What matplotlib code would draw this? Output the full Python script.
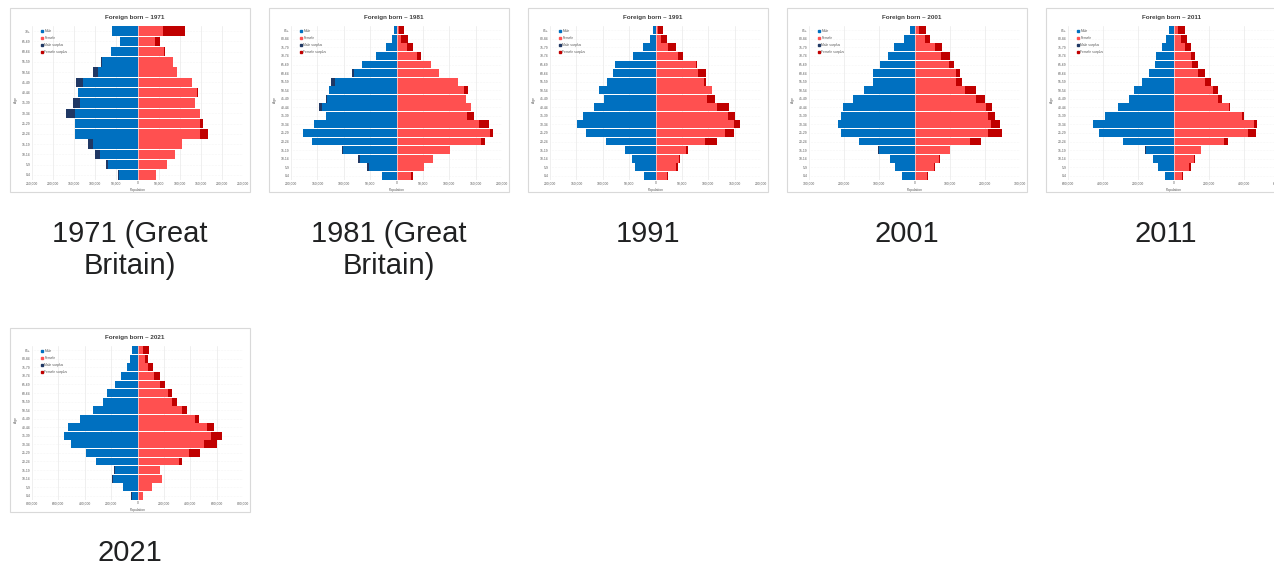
import numpy as np
import matplotlib.pyplot as plt
from matplotlib.patches import Patch, Rectangle

plt.rcParams['font.family'] = ['Liberation Sans', 'DejaVu Sans']

# age groups
ages_1971 = ['0-4', '5-9', '10-14', '15-19', '20-24', '25-29', '30-34', '35-39',
             '40-44', '45-49', '50-54', '55-59', '60-64', '65-69', '70+']
ages = ['0-4', '5-9', '10-14', '15-19', '20-24', '25-29', '30-34', '35-39',
        '40-44', '45-49', '50-54', '55-59', '60-64', '65-69', '70-74', '75-79',
        '80-84', '85+']

# foreign born population, thousands
male_1971 = [46, 75, 100, 117, 147, 149, 169, 153, 141, 145, 106, 87, 63, 42, 60]
female_1971 = [45, 71, 89, 106, 168, 155, 148, 137, 143, 129, 93, 83, 65, 53, 113]

male_1981 = [27, 55, 73, 103, 160, 177, 157, 133, 146, 133, 128, 125, 84, 66, 38, 19, 8, 5]
female_1981 = [31, 53, 70, 101, 167, 182, 175, 146, 142, 131, 135, 117, 81, 66, 47, 31, 21, 15]

male_1991 = [21, 38, 45, 58, 93, 132, 148, 138, 117, 97, 107, 92, 81, 77, 42, 23, 10, 4]
female_1991 = [23, 42, 47, 62, 116, 149, 161, 151, 140, 112, 107, 96, 95, 78, 52, 39, 22, 15]

male_2001 = [36, 55, 70, 103, 157, 208, 217, 210, 203, 174, 143, 117, 119, 98, 76, 57, 29, 12]
female_2001 = [38, 57, 73, 102, 188, 248, 242, 228, 221, 200, 176, 135, 130, 111, 102, 78, 43, 32]

male_2011 = [48, 86, 118, 162, 290, 423, 457, 387, 314, 251, 225, 181, 137, 105, 99, 67, 42, 23]
female_2011 = [53, 99, 124, 158, 310, 470, 476, 400, 320, 276, 251, 213, 177, 137, 124, 99, 76, 63]

male_2021 = [46, 110, 192, 179, 315, 392, 508, 554, 526, 436, 341, 264, 231, 174, 123, 77, 59, 41]
female_2021 = [44, 113, 185, 172, 338, 472, 600, 638, 582, 467, 377, 300, 262, 205, 172, 121, 82, 87]

years = ['1971', '1981', '1991', '2001', '2011', '2021']
captions = ['1971 (Great\nBritain)', '1981 (Great\nBritain)', '1991', '2001', '2011', '2021']
axis_max = [250000, 200000, 200000, 300000, 600000, 800000]
axis_step = [50000, 50000, 50000, 100000, 200000, 200000]

panels = [
    (ages_1971, male_1971, female_1971),
    (ages, male_1981, female_1981),
    (ages, male_1991, female_1991),
    (ages, male_2001, female_2001),
    (ages, male_2011, female_2011),
    (ages, male_2021, female_2021),
]

MALE = '#0070C0'
FEMALE = '#FF5050'
MALE_S = '#203864'
FEMALE_S = '#C00000'
GREY = '#595959'

W, H = 1274, 574
fig = plt.figure(figsize=(W / 100, H / 100), dpi=100)

for i, (labels, m, f) in enumerate(panels):
    col, row = i % 5, i // 5
    L = 10 + col * 259
    T = 8 + row * 320

    # thumbnail frame
    fig.patches.append(Rectangle((L / W, 1 - (T + 184) / H), 240 / W, 184 / H,
                                 transform=fig.transFigure, fill=False,
                                 ec='#d9d9d9', lw=0.8))

    ax = fig.add_axes([(L + 22) / W, 1 - (T + 172) / H, 211 / W, 154 / H])
    m = np.array(m) * 1000
    f = np.array(f) * 1000
    y = np.arange(len(labels))
    common = np.minimum(m, f)
    ax.barh(y, -common, height=0.92, color=MALE, zorder=2)
    ax.barh(y, -(m - common), left=-common, height=0.92, color=MALE_S, zorder=2)
    ax.barh(y, common, height=0.92, color=FEMALE, zorder=2)
    ax.barh(y, f - common, left=common, height=0.92, color=FEMALE_S, zorder=2)
    ax.axvline(0, color='white', lw=0.4, zorder=3)

    xm, st = axis_max[i], axis_step[i]
    ticks = np.arange(-xm, xm + 1, st)
    ax.set_xlim(-xm, xm)
    ax.set_ylim(-0.5, len(labels) - 0.5)
    ax.set_xticks(ticks)
    ax.set_xticklabels([f'{abs(v):,}' for v in ticks])
    ax.set_yticks(y)
    ax.set_yticklabels(labels)
    ax.tick_params(length=0, labelsize=2.4, labelcolor=GREY, pad=1)
    for s in ax.spines.values():
        s.set_visible(False)
    ax.grid(axis='x', color='#e3e3e3', lw=0.4, zorder=0)
    ax.grid(axis='y', color='#ececec', lw=0.4, ls=':', zorder=0)
    ax.set_axisbelow(True)
    ax.set_xlabel('Population', fontsize=2.4, color=GREY, labelpad=1.8)

    handles = [Patch(color=MALE, label='Male'), Patch(color=FEMALE, label='Female'),
               Patch(color=MALE_S, label='Male surplus'),
               Patch(color=FEMALE_S, label='Female surplus')]
    ax.legend(handles=handles, loc='upper left', bbox_to_anchor=(0.035, 0.99),
              fontsize=2.4, frameon=False, handlelength=0.6, handleheight=0.6,
              handletextpad=0.5, labelspacing=0.9, borderaxespad=0,
              labelcolor=GREY)

    fig.text((L + 125) / W, 1 - (T + 9) / H, f'Foreign born \u2013 {years[i]}',
             ha='center', va='center', fontsize=4.5, fontweight='bold', color='#404040')
    fig.text((L + 6) / W, 1 - (T + 92) / H, 'Age', rotation=90, ha='center',
             va='center', fontsize=2.4, color=GREY)

    # baseline of the first caption line; matplotlib aligns the last line
    base = (242 if row == 0 else 561) + 32 * captions[i].count('\n')
    fig.text((L + 120) / W, 1 - base / H, captions[i], ha='center', va='baseline',
             fontsize=21, color='#202122')

fig.savefig('out.png', dpi=100)
